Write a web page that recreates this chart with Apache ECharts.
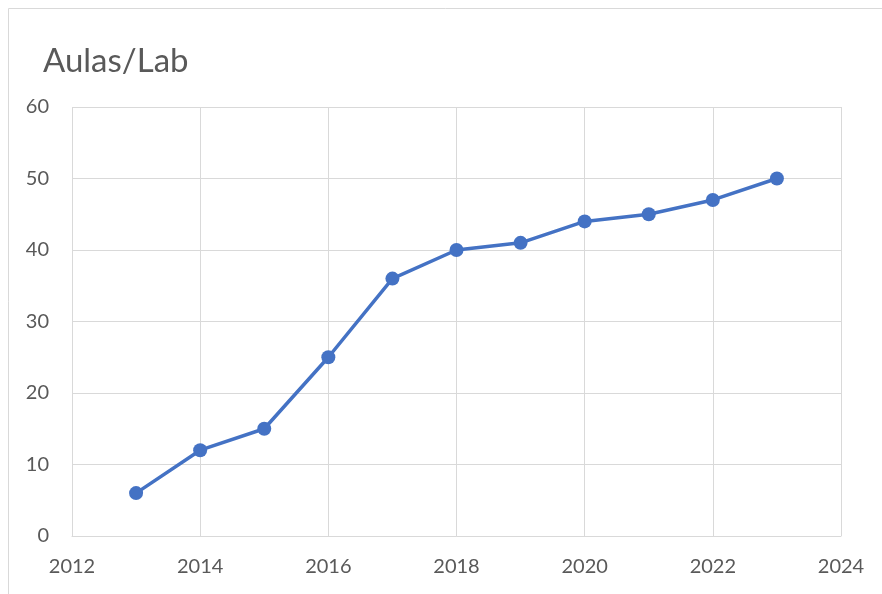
<!DOCTYPE html>
<html>
<head>
<meta charset="utf-8">
<script src="https://cdn.jsdelivr.net/npm/echarts@6/dist/echarts.min.js"></script>
<style>
	html, body { margin: 0; padding: 0; background: #fff; }
	#chart { width: 882px; height: 594px; }
</style>
</head>
<body>
<div id="chart"></div>
<script>
var years = [2013, 2014, 2015, 2016, 2017, 2018, 2019, 2020, 2021, 2022, 2023];
var aulas = [6, 12, 15, 25, 36, 40, 41, 44, 45, 47, 50];

var points = [];
for (var i = 0; i < years.length; i++) points.push([years[i], aulas[i]]);

var chart = echarts.init(document.getElementById('chart'));
var font = 'Lato, "Open Sans", sans-serif';
var gridColor = '#d9d9d9';

chart.setOption({
	animation: false,
	textStyle: { fontFamily: font },
	title: {
		text: 'Aulas/Lab',
		left: 38,
		top: 40,
		textStyle: { fontFamily: font, fontSize: 33, fontWeight: 'normal', color: '#595959' }
	},
	graphic: [{
		type: 'rect',
		shape: { x: 8.5, y: 8.5, width: 900, height: 620 },
		style: { fill: 'none', stroke: gridColor, lineWidth: 1 },
		z: -1
	}],
	grid: { left: 72, right: 41, top: 107, bottom: 58 },
	xAxis: {
		type: 'value',
		min: 2012,
		max: 2024,
		interval: 2,
		axisLine: { show: true, lineStyle: { color: gridColor, width: 1 } },
		axisTick: { show: false },
		splitLine: { show: true, lineStyle: { color: gridColor, width: 1 } },
		axisLabel: {
			color: '#595959', fontSize: 20, margin: 21, showMinLabel: true, showMaxLabel: true,
			formatter: function(v) { return String(v); }
		}
	},
	yAxis: {
		type: 'value',
		min: 0,
		max: 60,
		interval: 10,
		axisLine: { show: false },
		axisTick: { show: false },
		splitLine: { lineStyle: { color: gridColor, width: 1 } },
		axisLabel: { color: '#595959', fontSize: 20, margin: 23 }
	},
	series: [{
		type: 'line',
		data: points,
		symbol: 'circle',
		symbolSize: 14,
		lineStyle: { color: '#4472c4', width: 3.5 },
		itemStyle: { color: '#4472c4' }
	}]
});
</script>
</body>
</html>
